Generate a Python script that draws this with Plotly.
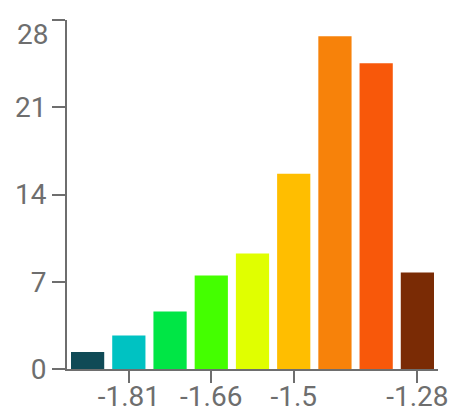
import plotly.graph_objects as go

categories = ["-1.89", "-1.81", "-1.74", "-1.66", "-1.58", "-1.5", "-1.43", "-1.35", "-1.28"]
values = [1.36, 2.69, 4.62, 7.50, 9.27, 15.66, 26.70, 24.54, 7.75]
colors = ["#0f4a56", "#00c2c2", "#00e645", "#44ff00", "#e0ff00", "#ffbe00", "#f7820a", "#f8580a", "#7a2b05"]
x_tick_vals = ["-1.81", "-1.66", "-1.5", "-1.28"]
y_tick_vals = [0, 7, 14, 21, 28]

axis_color = "#6e6e6e"
font_family = "Roboto, Open Sans, sans-serif"

fig = go.Figure(go.Bar(
    x=categories,
    y=values,
    marker=dict(color=colors, line=dict(width=0)),
))

# top tick label sits just below its tick (as in the reference)
y_tick_text = [str(v) for v in y_tick_vals[:-1]] + [""]
fig.add_annotation(
    xref="paper", yref="y",
    x=0, y=y_tick_vals[-1],
    text=str(y_tick_vals[-1]),
    showarrow=False,
    xanchor="right", yanchor="top",
    xshift=-17, yshift=4,
    font=dict(family=font_family, size=28, color=axis_color),
)

fig.update_layout(
    width=452,
    height=411,
    margin=dict(l=67, r=14, t=20, b=42, autoexpand=False),
    paper_bgcolor="white",
    plot_bgcolor="white",
    bargap=0.194,
    showlegend=False,
    font=dict(family=font_family, size=28, color=axis_color),
)

fig.update_xaxes(
    type="category",
    range=[-0.5, 8.5],
    tickmode="array",
    tickvals=x_tick_vals,
    ticktext=x_tick_vals,
    showline=True,
    linecolor=axis_color,
    linewidth=2,
    ticks="outside",
    ticklen=12,
    tickwidth=2,
    tickcolor=axis_color,
    ticklabelstandoff=-11,
    showgrid=False,
    zeroline=False,
    automargin=False,
)

fig.update_yaxes(
    range=[0, 28],
    tickmode="array",
    tickvals=y_tick_vals,
    ticktext=y_tick_text,
    showline=True,
    linecolor=axis_color,
    linewidth=2,
    ticks="outside",
    ticklen=13,
    tickwidth=2,
    tickcolor=axis_color,
    showgrid=False,
    zeroline=False,
    automargin=False,
)

fig.write_html(
    "out.html",
    config={"displayModeBar": False},
    post_script="document.body.style.margin='0';document.body.style.overflow='hidden';",
)
